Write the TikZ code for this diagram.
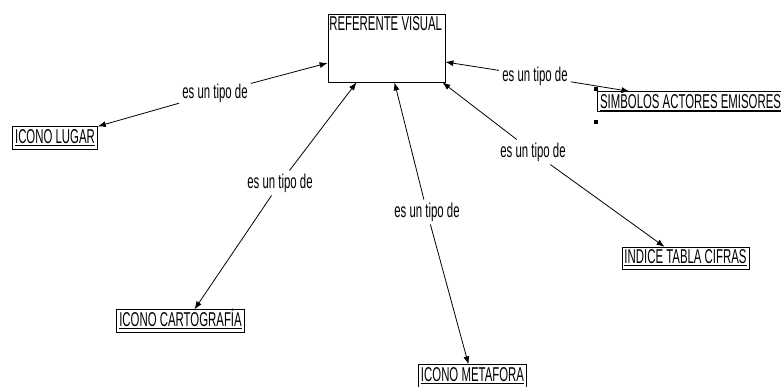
\documentclass[tikz,border=0pt]{standalone}
\usepackage{fontspec}
\setmainfont{Liberation Sans}[FakeStretch=0.57]
\usetikzlibrary{arrows.meta}

\begin{document}
\begin{tikzpicture}[x=1pt,y=-1pt,
  >={Latex[length=8pt,width=6pt]},
  every node/.style={font=\fontsize{20}{22}\selectfont},
  concepto/.style={draw,line width=0.8pt,inner xsep=2.5pt,inner ysep=2pt,text height=14.5pt,text depth=4pt},
  enlace/.style={inner sep=3pt},
  flecha/.style={line width=0.8pt}]
\useasboundingbox (0,0) rectangle (781,387);
% conceptos
\node[draw,line width=0.8pt,minimum width=117pt,minimum height=68pt] (ref) at (386.5,48) {};
\node[anchor=north west,inner xsep=1.5pt,inner ysep=3pt] (reftxt) at (ref.north west) {REFERENTE VISUAL};
\node[concepto] (lugar) at (55,138) {\underline{ICONO LUGAR}};
\node[concepto] (carto) at (180.5,321) {\underline{ICONO CARTOGRAFÍA}};
\node[concepto] (meta) at (472.5,376) {\underline{ICONO METAFORA}};
\node[concepto] (indice) at (685.5,258.5) {\underline{INDICE TABLA CIFRAS}};
\node[concepto,text depth=1pt] (simb) at (690.5,101.5) {\underline{SIMBOLOS ACTORES EMISORES}};
\node[fill,inner sep=0pt,minimum size=4pt] (h1) at (596,89) {};
\node[fill,inner sep=0pt,minimum size=4pt] (h2) at (596,122) {};
% frases de enlace
\node[enlace] (l1) at (215,93) {es un tipo de};
\node[enlace] (l2) at (280,183) {es un tipo de};
\node[enlace] (l3) at (427,212) {es un tipo de};
\node[enlace] (l4) at (533,152) {es un tipo de};
\node[enlace] (l5) at (535,76) {es un tipo de};
% flechas
\draw[flecha,<-] ([yshift=-15pt]ref.west) -- (l1);
\draw[flecha,->] (l1) -- (lugar.north east);
\draw[flecha,<-] ([xshift=-30pt]ref.south) -- (l2);
\draw[flecha,->] (l2) -- ([xshift=14pt]carto.north);
\draw[flecha,<-] ([xshift=8pt]ref.south) -- (l3);
\draw[flecha,->] (l3) -- ([xshift=-4pt]meta.north);
\draw[flecha,<-] ([xshift=-3pt]ref.south east) -- (l4);
\draw[flecha,->] (l4) -- ([xshift=-21pt]indice.north);
\draw[flecha,<-] ([yshift=-14pt]ref.east) -- (l5);
\draw[flecha,->] (l5) -- ([xshift=-61pt]simb.north);
\end{tikzpicture}
\end{document}
